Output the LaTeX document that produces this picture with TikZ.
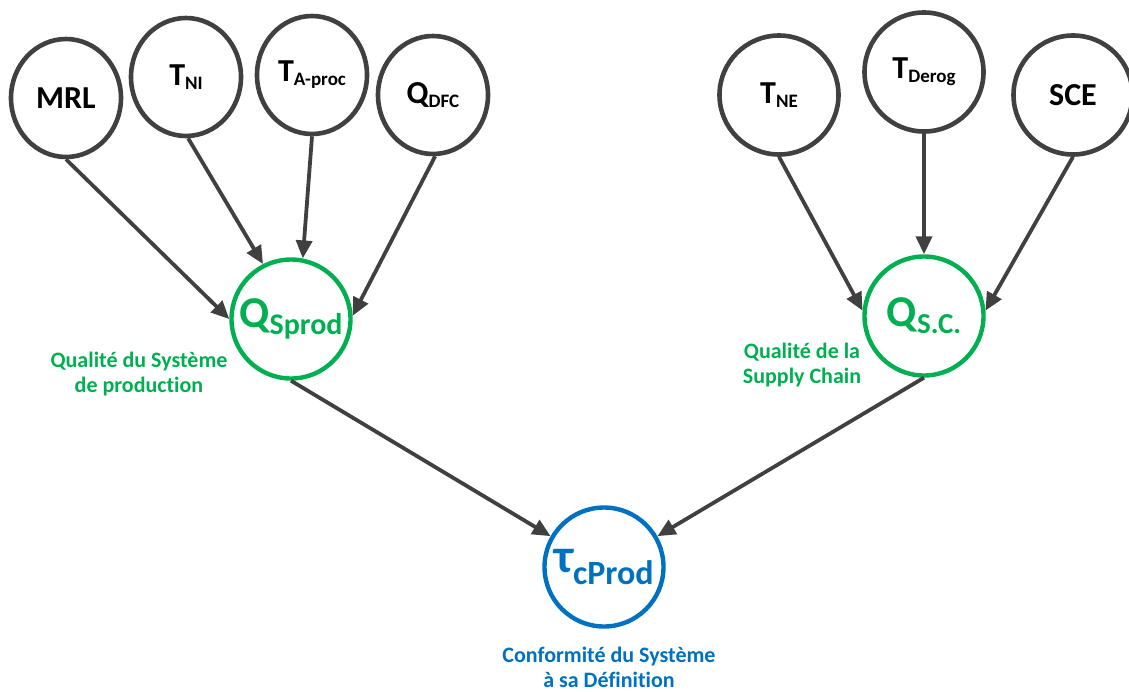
\documentclass[tikz,border=0pt]{standalone}
\usepackage{fontspec}
\setmainfont{Carlito}[Ligatures=NoCommon]
\usetikzlibrary{arrows.meta,shapes.geometric}
\definecolor{dk}{HTML}{404040}
\definecolor{gr}{HTML}{00B050}
\definecolor{bl}{HTML}{0070C0}
\newcommand{\subtxt}[3]{\raisebox{-#3}{\fontsize{#1}{#1}\selectfont #2}}
\begin{document}
\begin{tikzpicture}[x=1pt,y=-1pt,
  inp/.style={draw=dk,line width=4.6pt,ellipse,inner sep=0pt,minimum width=110pt,minimum height=118pt,font=\bfseries\fontsize{32}{32}\selectfont},
  inpr/.style={inp,minimum width=119pt,minimum height=119pt},
  mid/.style={draw=gr,line width=4.4pt,circle,inner sep=0pt,minimum size=119pt,text=gr,font=\bfseries\fontsize{44}{44}\selectfont},
  fin/.style={draw=bl,line width=4.4pt,circle,inner sep=0pt,minimum size=119pt,text=bl,font=\bfseries\fontsize{48}{48}\selectfont},
  lab/.style={align=center,font=\bfseries\fontsize{22}{25}\selectfont},
  arr/.style={draw=dk,line width=3.8pt,-{Triangle[length=18pt,width=16pt]}}
]
\useasboundingbox (0,0) rectangle (1129,691);
\node[inp] (MRL) at (66,98) {MRL};
\node[inp] (TNI) at (186,77) {T\subtxt{19}{NI}{4pt}};
\node[inp] (TAP) at (312,75) {T\subtxt{19}{A-proc}{4pt}};
\node[inp] (QDFC) at (433,95) {Q\subtxt{19}{DFC}{4pt}};
\node[inpr] (TNE) at (779,95) {T\subtxt{19}{NE}{4pt}};
\node[inpr] (TDG) at (924,72) {T\subtxt{19}{Derog}{4pt}};
\node[inpr] (SCE) at (1073,95) {SCE};
\node[mid] (QS) at (291,319) {Q\subtxt{30}{Sprod}{7pt}};
\node[mid] (QSC) at (924,316) {Q\subtxt{29}{S.C.}{7pt}};
\node[fin] (TAU) at (604,567) {τ\subtxt{34}{cProd}{12pt}};
\node[lab,text=gr] (LQS) at (139,374) {Qualité du Système\\de production};
\node[lab,text=gr] (LQSC) at (802,365) {Qualité de la\\Supply Chain};
\node[lab,text=bl] (LTAU) at (609,667) {Conformité du Système\\à sa Définition};
\draw[arr] (MRL.-90) -- (QS.180);
\draw[arr] (TNI.-88) -- (QS.117);
\draw[arr] (TAP.-90) -- (QS.79);
\draw[arr] (QDFC.-88) -- (QS.3);
\draw[arr] (TNE.-90) -- (QSC.175);
\draw[arr] (TDG.-90) -- (QSC.90);
\draw[arr] (SCE.-90) -- (QSC.5);
\draw[arr] (QS.-90) -- (TAU.150);
\draw[arr] (QSC.-90) -- (TAU.30);
\end{tikzpicture}
\end{document}
